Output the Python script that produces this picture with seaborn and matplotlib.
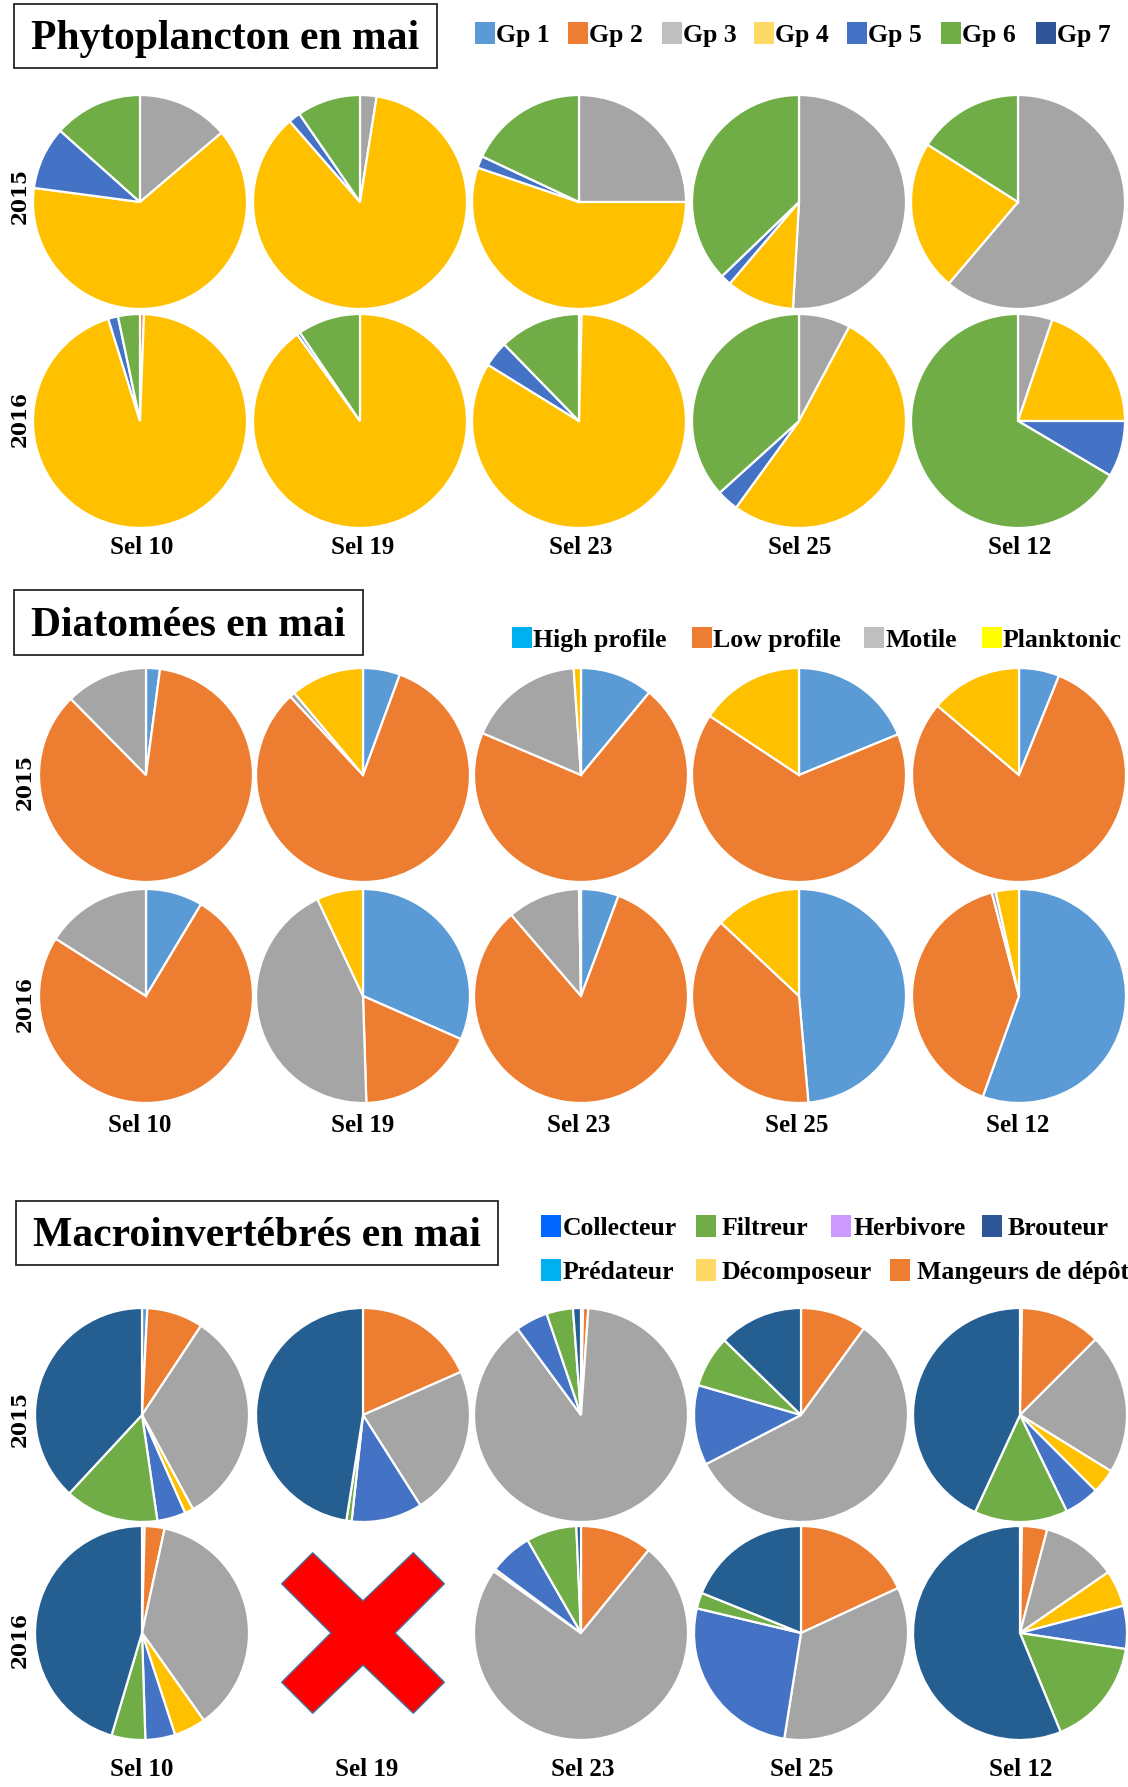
import numpy as np
import matplotlib
matplotlib.use("Agg")
import matplotlib.pyplot as plt
import seaborn as sns
from matplotlib.patches import Rectangle, Polygon

# ---------------------------------------------------------------- data
sites = ["Sel 10", "Sel 19", "Sel 23", "Sel 25", "Sel 12"]
years = ["2015", "2016"]

# Phytoplankton groups, slice order Gp 1 .. Gp 7 (% of community)
phyto_groups = ["Gp 1", "Gp 2", "Gp 3", "Gp 4", "Gp 5", "Gp 6", "Gp 7"]
phyto_2015 = [
    [0, 0.0, 13.8, 63.3, 9.5, 13.4, 0],
    [0, 0.0, 2.5, 86.1, 1.8, 9.6, 0],
    [0, 0.0, 25.0, 55.2, 1.8, 18.0, 0],
    [0, 0.0, 50.9, 10.3, 1.6, 37.2, 0],
    [0, 0.0, 61.2, 22.8, 0.0, 16.0, 0],
]
phyto_2016 = [
    [0, 0.6, 0.0, 94.6, 1.5, 3.3, 0],
    [0, 0.0, 0.0, 90.0, 0.5, 9.5, 0],
    [0, 0.0, 0.4, 83.4, 3.9, 12.3, 0],
    [0, 0.0, 7.8, 52.2, 3.3, 36.7, 0],
    [0, 0.0, 5.2, 19.8, 8.5, 66.5, 0],
]

# Diatom growth forms
diatom_groups = ["High profile", "Low profile", "Motile", "Planktonic"]
diatom_2015 = [
    [2.1, 85.5, 12.4, 0.0],
    [5.6, 82.5, 0.8, 11.1],
    [11.0, 70.4, 17.5, 1.1],
    [18.8, 65.5, 0.0, 15.7],
    [6.1, 80.1, 0.0, 13.8],
]
diatom_2016 = [
    [8.6, 75.4, 16.0, 0.0],
    [31.6, 17.9, 43.5, 7.0],
    [5.7, 83.0, 11.0, 0.3],
    [48.6, 38.4, 0.0, 13.0],
    [55.5, 40.4, 0.6, 3.5],
]

# Macroinvertebrate feeding groups, slice order
macro_slices = ["Prédateur", "Mangeurs de dépôt", "Herbivore", "Décomposeur",
                "Collecteur", "Filtreur", "Brouteur"]
macro_2015 = [
    [0.8, 8.5, 32.8, 1.3, 4.3, 14.2, 38.1],
    [0.0, 18.4, 22.6, 0.0, 10.7, 0.8, 47.5],
    [0.3, 0.8, 88.8, 0.0, 4.9, 4.0, 1.2],
    [0.0, 10.0, 57.4, 0.0, 12.1, 7.8, 12.7],
    [0.3, 12.2, 21.3, 3.7, 5.3, 14.1, 43.1],
]
macro_2016 = [
    [0.4, 3.0, 36.8, 4.8, 4.5, 5.1, 45.4],
    None,  # Sel 19: no sample
    [0.0, 10.9, 73.9, 0.4, 6.5, 7.6, 0.7],
    [0.0, 18.1, 34.4, 0.0, 26.2, 2.4, 18.9],
    [0.3, 3.8, 11.3, 5.5, 6.5, 16.4, 56.2],
]

# legend entries (label, swatch colour)
phyto_legend = list(zip(phyto_groups, ["#5B9BD5", "#ED7D31", "#BFBFBF", "#FFD966",
                                       "#4472C4", "#70AD47", "#2F5597"]))
diatom_legend = list(zip(diatom_groups, ["#00B0F0", "#ED7D31", "#BFBFBF", "#FFFF00"]))
macro_legend_row1 = [("Collecteur", "#0066FF"), ("Filtreur", "#70AD47"),
                     ("Herbivore", "#CC99FF"), ("Brouteur", "#2F5597")]
macro_legend_row2 = [("Prédateur", "#00B0F0"), ("Décomposeur", "#FFD966"),
                     ("Mangeurs de dépôt", "#ED7D31")]

# ---------------------------------------------------------------- style
sns.set_theme(style="white")
plt.rcParams["font.family"] = ["Liberation Serif", "DejaVu Serif"]
pie_colors = sns.color_palette(["#5B9BD5", "#ED7D31", "#A5A5A5", "#FFC000",
                                "#4472C4", "#70AD47", "#255E91"])

W, H = 1128, 1787
fig = plt.figure(figsize=(W / 100, H / 100), dpi=100)
fig.patch.set_facecolor("white")

R = 107  # pie radius in pixels


def fx(x):
    return x / W


def fy(y):
    return 1 - y / H


def pie_axes(cx, cy):
    ax = fig.add_axes([fx(cx - R), fy(cy + R), 2 * R / W, 2 * R / H])
    ax.set_aspect("equal")
    ax.axis("off")
    return ax


def draw_pie(ax, values, colors):
    vals = np.asarray(values, dtype=float)
    keep = vals > 0
    ax.pie(vals[keep], colors=[c for c, k in zip(colors, keep) if k],
           startangle=90, counterclock=False, radius=1,
           wedgeprops=dict(edgecolor="white", linewidth=1.6))
    ax.set_xlim(-1.0, 1.0)
    ax.set_ylim(-1.0, 1.0)


def draw_cross(ax):
    pts = [(0, 0.30), (0.47, 0.75), (0.76, 0.46), (0.30, 0), (0.76, -0.46),
           (0.47, -0.75), (0, -0.30), (-0.47, -0.75), (-0.76, -0.46),
           (-0.30, 0), (-0.76, 0.46), (-0.47, 0.75)]
    ax.add_patch(Polygon(pts, closed=True, facecolor="#FF0000",
                         edgecolor="#41719C", linewidth=1.0))
    ax.set_xlim(-1.0, 1.0)
    ax.set_ylim(-1.0, 1.0)


def title_box(x0, y0, x1, y1, text):
    fig.patches.append(Rectangle((fx(x0), fy(y1)), (x1 - x0) / W, (y1 - y0) / H,
                                 transform=fig.transFigure, facecolor="white",
                                 edgecolor="#262626", linewidth=1.3))
    fig.text(fx((x0 + x1) / 2), fy((y0 + y1) / 2 + 3), text, ha="center",
             va="center", fontsize=30, fontweight="bold", color="black")


def legend_row(entries, xs, ytop, gaps, h=22, w=20):
    for (label, col), x, g in zip(entries, xs, gaps):
        fig.patches.append(Rectangle((fx(x), fy(ytop + h)), w / W, h / H,
                                     transform=fig.transFigure,
                                     facecolor=col, edgecolor="none"))
        fig.text(fx(x + w + g), fy(ytop + h / 2), label, ha="left",
                 va="center_baseline", fontsize=18.5, fontweight="bold",
                 color="black")


def panel(data_by_year, xs, ys, label_y, label_xs, year_x, year_ys):
    for yi, (rows, cy) in enumerate(zip(data_by_year, ys)):
        for si, (row, cx) in enumerate(zip(rows, xs)):
            ax = pie_axes(cx, cy)
            if row is None:
                draw_cross(ax)
            else:
                draw_pie(ax, row, pie_colors)
        fig.text(fx(year_x), fy(year_ys[yi]), years[yi], rotation=90,
                 ha="center", va="center", fontsize=14.5, fontweight="bold",
                 family="DejaVu Serif", color="black")
    for name, lx in zip(sites, label_xs):
        fig.text(fx(lx), fy(label_y), name, ha="center", va="center",
                 fontsize=18, fontweight="bold", color="black")


# ---------------------------------------------------------------- phytoplankton
title_box(14, 4, 437, 68, "Phytoplancton en mai")
legend_row(phyto_legend, [475, 568, 662, 754, 847, 941, 1036], 22, [1] * 7)
panel([phyto_2015, phyto_2016], [140, 360, 579, 799, 1018], [202, 421],
      548, [142, 363, 581, 800, 1020], 20, [196, 419])

# ---------------------------------------------------------------- diatoms
title_box(14, 590, 363, 655, "Diatomées en mai")
legend_row(diatom_legend, [512, 692, 864, 982], 627, [1] * 4, h=21)
panel([diatom_2015, diatom_2016], [146, 363, 581, 799, 1019], [775, 996],
      1126, [140, 363, 579, 797, 1018], 25, [782, 1004])

# ---------------------------------------------------------------- macroinvertebrates
title_box(16, 1201, 498, 1265, "Macroinvertébrés en mai")
legend_row(macro_legend_row1, [541, 696, 831, 982], 1215, [2, 6, 2, 6])
legend_row(macro_legend_row2, [541, 696, 890], 1259, [2, 6, 7])
panel([macro_2015, macro_2016], [142, 363, 581, 801, 1020], [1415, 1633],
      1769, [142, 367, 583, 802, 1021], 20, [1419, 1640])

fig.savefig("out.png", dpi=100, facecolor="white")
